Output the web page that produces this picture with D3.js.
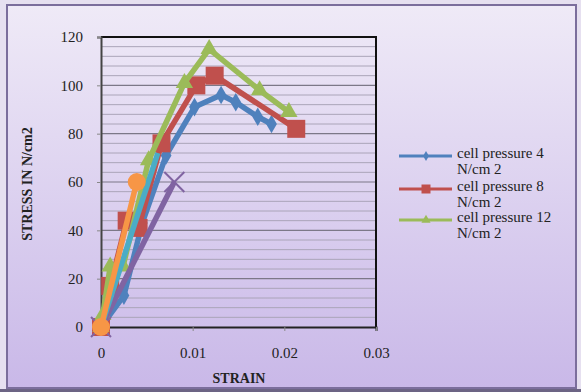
<!DOCTYPE html>
<html lang="en">
<head>
<meta charset="UTF-8">
<title>Stress vs Strain</title>
<script src="https://d3js.org/d3.v7.min.js"></script>
<style>
    body { margin: 0; background: #e6e0f0; }
</style>
</head>
<body>
<script>
    // series values
    const strainBlue = [0, 0.0025, 0.0045, 0.0071, 0.0102, 0.0131, 0.0147, 0.0171, 0.0186];
    const stressBlue = [0, 13, 43, 71, 91, 96, 93, 87, 84];
    const strainRed = [0, 0.001, 0.0028, 0.0041, 0.0066, 0.0104, 0.0124, 0.0213];
    const stressRed = [0, 17, 44, 41, 76, 100, 104, 82];
    const strainGreen = [0, 0.0002, 0.001, 0.0024, 0.0052, 0.0091, 0.0118, 0.0173, 0.0205];
    const stressGreen = [0, 5, 25, 25, 69, 101, 115, 98, 89];
    const strainPurple = [0, 0.008];
    const stressPurple = [0, 60];
    const strainAqua = [0, 0.0062];
    const stressAqua = [0, 72];
    const strainOrange = [0, 0.0039];
    const stressOrange = [0, 60];

    const xTicks = [0, 0.01, 0.02, 0.03];
    const yTicks = [0, 20, 40, 60, 80, 100, 120];
    const legendLines = [["cell pressure 4", "N/cm 2"], ["cell pressure 8", "N/cm 2"], ["cell pressure 12", "N/cm 2"]];

    const serif = '"Liberation Serif", "Times New Roman", "DejaVu Serif", serif';
    const width = 581, height = 392;
    const series = [
        { x: strainBlue, y: stressBlue, color: "#4F81BD", marker: "diamond", size: 13 },
        { x: strainRed, y: stressRed, color: "#C0504D", marker: "square", size: 18 },
        { x: strainGreen, y: stressGreen, color: "#9BBB59", marker: "triangle", size: 17 },
        { x: strainPurple, y: stressPurple, color: "#8064A2", marker: "x", size: 20 },
        { x: strainAqua, y: stressAqua, color: "#4BACC6", marker: "none", size: 0 },
        { x: strainOrange, y: stressOrange, color: "#F79646", marker: "circle", size: 18 }
    ];

    const svg = d3.select("body").append("svg")
        .attr("width", width)
        .attr("height", height);

    const defs = svg.append("defs");
    const grad = defs.append("linearGradient")
        .attr("id", "bg").attr("x1", 0).attr("y1", 0).attr("x2", 0).attr("y2", 1);
    grad.append("stop").attr("offset", "0%").attr("stop-color", "#efeaf7");
    grad.append("stop").attr("offset", "100%").attr("stop-color", "#c9b8e8");

    svg.append("rect").attr("x", 0).attr("y", 389).attr("width", width).attr("height", 3).attr("fill", "#6c6484");
    svg.append("rect")
        .attr("x", 7).attr("y", 5).attr("width", 569).attr("height", 383)
        .attr("fill", "url(#bg)")
        .attr("stroke", "#7b6e9c").attr("stroke-width", 2);

    const x = d3.scaleLinear().domain([0, 0.03]).range([101, 376]);
    const y = d3.scaleLinear().domain([0, 120]).range([327, 37]);

    // minor and major gridlines
    const grid = svg.append("g");
    grid.selectAll("line.minor")
        .data(d3.range(4, 120, 4).filter(v => v % 20 !== 0))
        .enter().append("line")
        .attr("x1", x(0)).attr("x2", x(0.03))
        .attr("y1", d => y(d)).attr("y2", d => y(d))
        .attr("stroke", "#aaa4b8").attr("stroke-width", 1);
    grid.selectAll("line.major")
        .data(yTicks.slice(1, -1))
        .enter().append("line")
        .attr("x1", x(0)).attr("x2", x(0.03))
        .attr("y1", d => y(d)).attr("y2", d => y(d))
        .attr("stroke", "#7c7888").attr("stroke-width", 1.2);

    // plot frame (top and right)
    svg.append("path")
        .attr("d", `M${x(0)},${y(120)}H${x(0.03)}V${y(0)}`)
        .attr("fill", "none").attr("stroke", "#111").attr("stroke-width", 2);

    const xAxis = svg.append("g")
        .attr("transform", `translate(0,${y(0)})`)
        .call(d3.axisBottom(x).tickValues(xTicks).tickSize(4).tickPadding(16)
            .tickFormat(d => d === 0 ? "0" : d3.format(".2f")(d)));
    xAxis.select(".domain").attr("stroke", "#222").attr("stroke-width", 2);
    xAxis.selectAll(".tick line").attr("stroke", "#888");

    const yAxis = svg.append("g")
        .attr("transform", `translate(${x(0)},0)`)
        .call(d3.axisLeft(y).tickValues(yTicks).tickSize(4).tickPadding(14));
    yAxis.select(".domain").attr("stroke", "#444").attr("stroke-width", 2);
    yAxis.selectAll(".tick line").attr("stroke", "#888");

    svg.selectAll(".tick text")
        .attr("font-family", null).attr("font-size", null)
        .style("font-family", serif).style("font-size", "15px").style("fill", "#222");

    svg.append("text")
        .attr("x", 239).attr("y", 383).attr("text-anchor", "middle")
        .style("font-family", serif).style("font-size", "14px").style("font-weight", "bold").style("fill", "#222")
        .text("STRAIN");
    svg.append("text")
        .attr("transform", "translate(32,184) rotate(-90)")
        .attr("text-anchor", "middle")
        .style("font-family", serif).style("font-size", "14px").style("font-weight", "bold").style("fill", "#222")
        .text("STRESS IN N/cm2");

    function drawMarker(g, type, size, color) {
        if (type === "x") {
            const h = size / 2;
            g.append("path")
                .attr("d", `M${-h},${-h}L${h},${h}M${-h},${h}L${h},${-h}`)
                .attr("stroke", color).attr("stroke-width", 2).attr("fill", "none");
            return;
        }
        const sym = { diamond: d3.symbolDiamond, square: d3.symbolSquare, triangle: d3.symbolTriangle, circle: d3.symbolCircle }[type];
        if (!sym) return;
        const area = type === "square" ? size * size : type === "circle" ? Math.PI * size * size / 4 :
            type === "diamond" ? size * size / 2 * 1.2 : size * size * 0.45;
        g.append("path").attr("d", d3.symbol().type(sym).size(area)()).attr("fill", color);
    }

    const line = d3.line().x(d => x(d[0])).y(d => y(d[1]));
    series.forEach(s => {
        const pts = s.x.map((v, i) => [v, s.y[i]]);
        const g = svg.append("g");
        g.append("path")
            .attr("d", line(pts))
            .attr("fill", "none").attr("stroke", s.color)
            .attr("stroke-width", 5.5).attr("stroke-linejoin", "round");
        pts.forEach(p => {
            const m = g.append("g").attr("transform", `translate(${x(p[0])},${y(p[1])})`);
            drawMarker(m, s.marker, s.size, s.color);
        });
    });

    // legend
    const legend = svg.append("g");
    const legendY = [156, 189, 220];
    legendLines.forEach((lines, i) => {
        const s = series[i];
        const row = legend.append("g").attr("transform", `translate(0,${legendY[i]})`);
        row.append("line").attr("x1", 399).attr("x2", 452).attr("y1", 0).attr("y2", 0)
            .attr("stroke", s.color).attr("stroke-width", 3);
        const m = row.append("g").attr("transform", "translate(426,0)");
        drawMarker(m, s.marker, i === 0 ? 7 : 9, s.color);
        row.selectAll("text").data(lines).enter().append("text")
            .attr("x", 457).attr("y", (d, j) => 2 + j * 16)
            .style("font-family", serif).style("font-size", "15px").style("fill", "#222")
            .text(d => d);
    });
</script>
</body>
</html>
